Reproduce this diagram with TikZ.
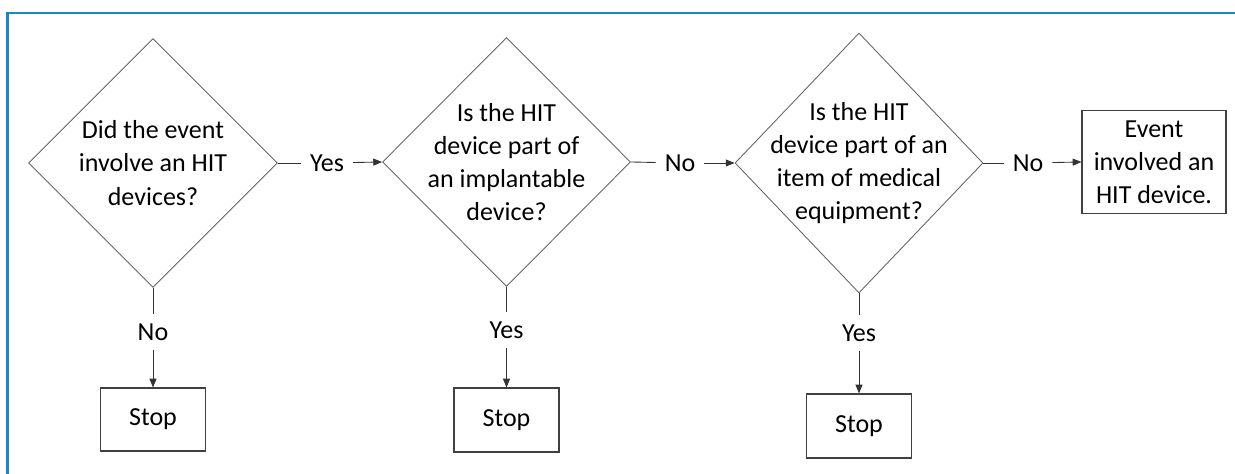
\documentclass[tikz,border=0pt]{standalone}
\usepackage{fontspec}
\setmainfont{Carlito}
\usetikzlibrary{arrows.meta,positioning,shapes.geometric}
\definecolor{frameblue}{RGB}{27,134,196}
\tikzset{
  decision/.style={diamond, draw=black!60, line width=0.5pt, inner sep=0pt},
  endbox/.style={rectangle, draw=black!75, line width=0.6pt, inner sep=0pt, align=center},
  answer/.style={inner sep=5pt},
  flow/.style={draw=black!80, line width=0.5pt},
  flowarrow/.style={flow, -{Triangle[length=5pt,width=4pt]}}
}

\begin{document}
\begin{tikzpicture}[font=\fontsize{14.8pt}{18.9pt}\selectfont]
          \useasboundingbox (0,0) rectangle (24.7,9.48);
          \draw[frameblue, line width=1.2pt] (0.15,0) -- (0.15,9.22) -- (24.7,9.22);

          \node[decision, minimum width=4.98cm, minimum height=4.98cm,
            label={[align=center]center:Did the event\\involve an HIT\\devices?}] (q1) at (3.06,6.22) {};
          \node[decision, minimum width=4.96cm, minimum height=4.98cm,
            label={[align=center]center:Is the HIT\\device part of\\an implantable\\device?}] (q2) at (10.13,6.24) {};
          \node[decision, minimum width=4.96cm, minimum height=5.2cm,
            label={[align=center]center:Is the HIT\\device part of an\\item of medical\\equipment?}] (q3) at (17.18,6.22) {};

          \node[endbox, minimum width=2.88cm, minimum height=2.06cm] (hit) at (23.08,6.24) {Event\\involved an\\HIT device.};
          \node[endbox, minimum width=2.1cm, minimum height=1.26cm] (stop1) at (3.06,1.09) {Stop};
          \node[endbox, minimum width=2.1cm, minimum height=1.28cm] (stop2) at (10.13,1.08) {Stop};
          \node[endbox, minimum width=2.1cm, minimum height=1.28cm] (stop3) at (17.18,0.96) {Stop};

          \node[answer] (yes1) at (6.54,6.22) {Yes};
          \node[answer] (no2) at (13.6,6.22) {No};
          \node[answer] (no3) at (20.56,6.22) {No};
          \node[answer] (no1) at (3.06,2.84) {No};
          \node[answer] (yes2) at (10.13,2.88) {Yes};
          \node[answer] (yes3) at (17.18,2.82) {Yes};

          \draw[flow] (q1.east) -- (yes1);
          \draw[flowarrow] (yes1) -- (q2.west);
          \draw[flow] (q2.east) -- (no2);
          \draw[flowarrow] (no2) -- (q3.west);
          \draw[flow] (q3.east) -- (no3);
          \draw[flowarrow] (no3) -- (hit.west);

          \draw[flow] (q1.south) -- (no1);
          \draw[flowarrow] (no1) -- (stop1.north);
          \draw[flow] (q2.south) -- (yes2);
          \draw[flowarrow] (yes2) -- (stop2.north);
          \draw[flow] (q3.south) -- (yes3);
          \draw[flowarrow] (yes3) -- (stop3.north);
        \end{tikzpicture}
\end{document}
